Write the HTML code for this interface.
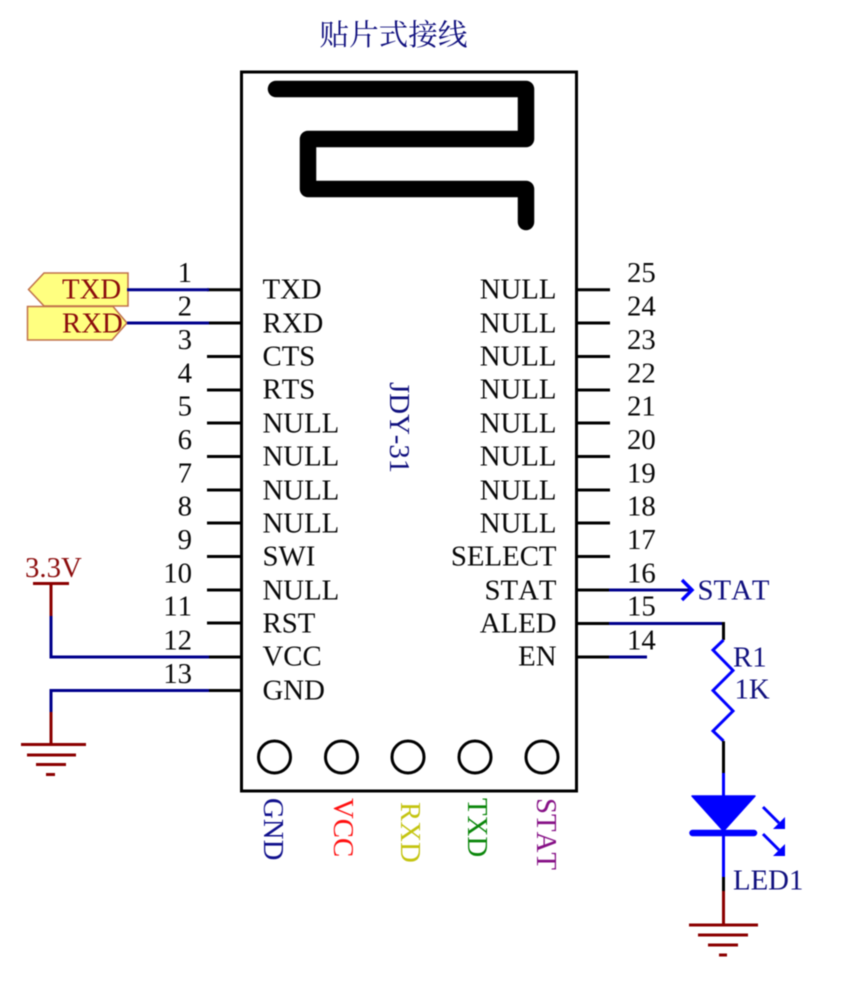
<!DOCTYPE html>
<html><head><meta charset="utf-8"><style>
html,body{margin:0;padding:0;background:#fff}
svg{display:block;filter:blur(0.4px)}
text{font-family:"Liberation Serif","Noto Serif CJK SC",serif;font-size:28.8px;font-kerning:none}
.k{fill:#080808}
.n{fill:#10107e}
.r{fill:#8b0c0c}
.e{text-anchor:end}
.w{stroke:#00008c;stroke-width:3;fill:none}
.b{stroke:#000;stroke-width:3;fill:none}
.d{stroke:#8b0000;stroke-width:3;fill:none}
.u{stroke:#0000ff;stroke-width:3;fill:none}
</style></head><body>
<svg width="859" height="985" viewBox="0 0 859 985" xmlns="http://www.w3.org/2000/svg">
<text x="319.500" y="45" class="n" style="font-size:29.6px">贴片式接线</text>
<rect x="241.5" y="72" width="335" height="719" fill="#fff" stroke="#000" stroke-width="3"/>
<path d="M276 89H526V139H308V189H526V222" fill="none" stroke="#000" stroke-width="16.5" stroke-linecap="round" stroke-linejoin="round"/>
<g fill="none" stroke="#000" stroke-width="3">
<circle cx="274.500" cy="757" r="16"/><circle cx="341.500" cy="757" r="16"/><circle cx="408" cy="757" r="16"/><circle cx="475" cy="757" r="16"/><circle cx="542" cy="757" r="16"/>
</g>
<!-- left pins -->
<path class="b" d="M207 289.700H241M207 323H241M207 356.500H241M207 390H241M207 423H241M207 456.500H241M207 490H241M207 523H241M207 556.500H241M207 590H241M207 623H241M207 657H241M207 690.500H241"/>
<!-- right pins -->
<path class="b" d="M577 289.700H610M577 323H610M577 356.500H610M577 390H610M577 423H610M577 456.500H610M577 490H610M577 523H610M577 556.500H610M577 590H610M577 623.500H610M577 657H610"/>
<!-- left numbers -->
<g class="k e">
<text x="192" y="282">1</text><text x="192" y="315.500">2</text><text x="192" y="349">3</text><text x="192" y="382.500">4</text><text x="192" y="415.500">5</text><text x="192" y="449">6</text><text x="192" y="482.500">7</text><text x="192" y="515.500">8</text><text x="192" y="549">9</text><text x="192" y="582.500">10</text><text x="192" y="615.500">11</text><text x="192" y="649.500">12</text><text x="192" y="683">13</text>
</g>
<!-- right numbers -->
<g class="k">
<text x="627" y="282">25</text><text x="627" y="315.500">24</text><text x="627" y="349">23</text><text x="627" y="382.500">22</text><text x="627" y="415.500">21</text><text x="627" y="449">20</text><text x="627" y="482.500">19</text><text x="627" y="515.500">18</text><text x="627" y="549">17</text><text x="627" y="582.500">16</text><text x="627" y="615.500">15</text><text x="627" y="649.500">14</text>
</g>
<!-- left labels -->
<g class="k" transform="translate(-0.5,-0.5)">
<text x="263" y="299">TXD</text><text x="263" y="333">RXD</text><text x="263" y="366">CTS</text><text x="263" y="399">RTS</text><text x="263" y="433">NULL</text><text x="263" y="466">NULL</text><text x="263" y="500">NULL</text><text x="263" y="533">NULL</text><text x="263" y="566">SWI</text><text x="263" y="600">NULL</text><text x="263" y="633">RST</text><text x="263" y="666">VCC</text><text x="263" y="700">GND</text>
</g>
<!-- right labels -->
<g class="k e" transform="translate(0.5,-0.5)">
<text x="556" y="299">NULL</text><text x="556" y="333">NULL</text><text x="556" y="366">NULL</text><text x="556" y="399">NULL</text><text x="556" y="433">NULL</text><text x="556" y="466">NULL</text><text x="556" y="500">NULL</text><text x="556" y="533">NULL</text><text x="556" y="566">SELECT</text><text x="556" y="600">STAT</text><text x="556" y="633">ALED</text><text x="556" y="666">EN</text>
</g>
<text transform="translate(390,382) rotate(90)" class="n">JDY-31</text>
<text transform="translate(264,798) rotate(90)" fill="#10108c">GND</text>
<text transform="translate(334,798) rotate(90)" fill="#ff1010">VCC</text>
<text transform="translate(401,802) rotate(90)" fill="#c4c410">RXD</text>
<text transform="translate(468,798) rotate(90)" fill="#0a860a">TXD</text>
<text transform="translate(537,798) rotate(90)" fill="#861086">STAT</text>
<!-- net ports -->
<path d="M28.500 289.500L44 273H128V306H44Z" fill="#ffff80" stroke="#c0704a" stroke-width="1.500"/>
<path d="M27.500 306.500H113L127 323L112 340H27.500Z" fill="#ffff80" stroke="#c0704a" stroke-width="1.500"/>
<text x="62" y="298.500" class="r">TXD</text>
<text x="62" y="332.500" class="r">RXD</text>
<path class="w" d="M127 289.700H209M127 323H209"/>
<!-- 3.3V -->
<text x="25" y="577" class="r">3.3V</text>
<path class="d" d="M33 583.500H69M51 583V616"/>
<path class="w" d="M51 616V657H209"/>
<!-- GND left -->
<path class="w" d="M51 712V690.500H209"/>
<path class="d" d="M51 712V744M21 744.500H86M27 755H76M36 764.500H66M46 774.500H55"/>
<!-- STAT -->
<path class="w" d="M609 590H690"/>
<path d="M682 580L692 590L682 600" fill="none" stroke="#0000ff" stroke-width="3.500"/>
<text x="697.500" y="599.500" class="n">STAT</text>
<!-- pin 15 & 14 -->
<path class="w" d="M609 623.500H724"/>
<path class="w" d="M609 657H647"/>
<!-- resistor -->
<path class="b" d="M723.500 622V640"/>
<path class="u" d="M723.500 640L713 650L733 670.500L713 690.500L733 711L713 731L723.500 741" stroke-width="3.500"/>
<path class="b" d="M723.500 741V773"/>
<text x="733" y="666.500" class="n">R1</text>
<text x="734.500" y="698.500" class="n">1K</text>
<!-- LED -->
<path class="u" d="M723.500 773V797M723.500 833V877"/>
<path d="M692 796H755L723.500 831Z" fill="#0000ff" stroke="#0000ff" stroke-width="1.500" stroke-linejoin="round"/>
<path d="M692.500 833H754" stroke="#0000ff" stroke-width="6.500" stroke-linecap="round"/>
<path class="u" d="M763 807L779 823M763 834L779 850"/>
<path d="M785 817V829H773ZM785 844V856H773Z" fill="#0000ff"/>
<path class="b" d="M723.500 877V891"/>
<text x="733" y="889.500" class="n">LED1</text>
<!-- GND right -->
<path class="d" d="M723.500 891V925M689 925H758M698 935H748M708 945H738M719 955H727"/>
</svg>
</body></html>
